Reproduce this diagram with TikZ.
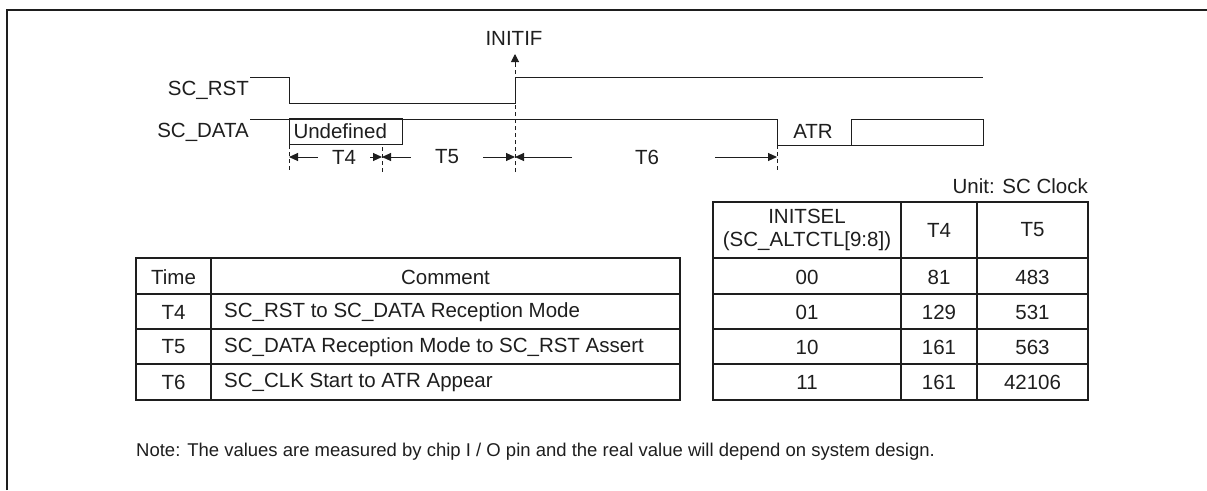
\documentclass[tikz,border=0pt]{standalone}
\usepackage{fontspec}
\setmainfont{Liberation Sans}
\usetikzlibrary{arrows.meta,positioning}
\definecolor{inkgray}{RGB}{30,30,30}

\begin{document}
\begin{tikzpicture}[x=1pt, y=-1pt,
  every node/.style={font=\fontsize{20.5}{23}\selectfont, inner sep=0pt, text=inkgray},
  sig/.style={draw=inkgray, line width=1pt},
  guide/.style={draw=inkgray, line width=1pt, dash pattern=on 4pt off 3pt},
  tbl/.style={draw=inkgray, line width=1.3pt},
  dim/.style={-{Triangle[length=9pt,width=8pt]}, draw=inkgray, line width=1pt},
  cell/.style={anchor=center},
  lcell/.style={anchor=west}
]
\useasboundingbox (0,0) rectangle (1207,490);
\draw[line width=2pt, inkgray] (7,490) -- (7,10) -- (1207,10);

% signals
\node[anchor=east] (rstlbl) at (249,90) {SC\_RST};
\node[anchor=east] (datalbl) at (249,132) {SC\_DATA};
\node (initif) at (514,38) {INITIF};
\draw[sig] (250,77) -- (289,77) -- (289,103) -- (515,103) -- (515,77) -- (983,77);
\draw[sig] (250,119) -- (777,119) -- (777,145) -- (983,145);
\node[draw=inkgray, line width=1pt, anchor=north west, minimum height=26pt, text width=105pt, align=left, inner xsep=4pt] (undef) at (289,118) {Undefined};
\node (atr) at (813,131) {ATR};
\draw[sig] (851,119) rectangle (983,145);

% timing marks
\coordinate (m0) at (289,157);
\coordinate (m1) at (382,157);
\coordinate (m2) at (515,157);
\coordinate (m3) at (777,157);
\draw[guide] (289,145) -- (289,172);
\draw[guide] (382,147) -- (382,172);
\draw[guide] (777,145) -- (777,172);
\draw[guide] (515,172) -- (515,64);
\draw[-{Triangle[length=8pt,width=8pt]}, inkgray, line width=1pt] (515,64) -- (515,54);

\node (t4) at (344,157) {T4};
\node (t5) at (447,157) {T5};
\node (t6) at (647,157) {T6};
\draw[dim] (t4.west) ++(-14,0) -- (m0);
\draw[dim] (t4.east) ++(14,0) -- (m1);
\draw[dim] (t5.west) ++(-24,0) -- (m1);
\draw[dim] (t5.east) ++(24,0) -- (m2);
\draw[dim] (572,157) -- (m2);
\draw[dim] (715,157) -- (m3);

% time table
\draw[tbl] (136,258) rectangle (680,400);
\draw[tbl] (211,258) -- (211,400);
\draw[tbl] (136,294) -- (680,294);
\draw[tbl] (136,329) -- (680,329);
\draw[tbl] (136,364) -- (680,364);
\node[cell] (time) at (173.5,277) {Time};
\node[cell] (comment) at (445.5,277) {Comment};
\node[cell] (tt4) at (173.5,312) {T4};
\node[cell] (tt5) at (173.5,347) {T5};
\node[cell] (tt6) at (173.5,382) {T6};
\node[lcell] (c4) at (224,312) {SC\_RST to SC\_DATA Reception Mode};
\node[lcell] (c5) at (224,347) {SC\_DATA Reception Mode to SC\_RST Assert};
\node[lcell] (c6) at (224,382) {SC\_CLK Start to ATR Appear};

% initsel table
\node[anchor=east] (unit) at (1088,186) {Unit: SC Clock};
\draw[tbl] (713,202) rectangle (1088,400);
\draw[tbl] (901,202) -- (901,400);
\draw[tbl] (977,202) -- (977,400);
\draw[tbl] (713,258) -- (1088,258);
\draw[tbl] (713,294) -- (1088,294);
\draw[tbl] (713,329) -- (1088,329);
\draw[tbl] (713,364) -- (1088,364);
\node[cell, align=center] (initsel) at (807,230) {INITSEL\\(SC\_ALTCTL[9:8])};
\node[cell] (ht4) at (939,230) {T4};
\node[cell] (ht5) at (1032.5,230) {T5};
\node[cell] (s00) at (807,277) {00};
\node[cell] (s01) at (807,312) {01};
\node[cell] (s10) at (807,347) {10};
\node[cell] (s11) at (807,382) {11};
\node[cell] (a00) at (939,277) {81};
\node[cell] (a01) at (939,312) {129};
\node[cell] (a10) at (939,347) {161};
\node[cell] (a11) at (939,382) {161};
\node[cell] (b00) at (1032.5,277) {483};
\node[cell] (b01) at (1032.5,312) {531};
\node[cell] (b10) at (1032.5,347) {563};
\node[cell] (b11) at (1032.5,382) {42106};

\node[anchor=west, font=\fontsize{18.5}{21}\selectfont] (note) at (136,452) {Note: The values are measured by chip I / O pin and the real value will depend on system design.};
\end{tikzpicture}
\end{document}
